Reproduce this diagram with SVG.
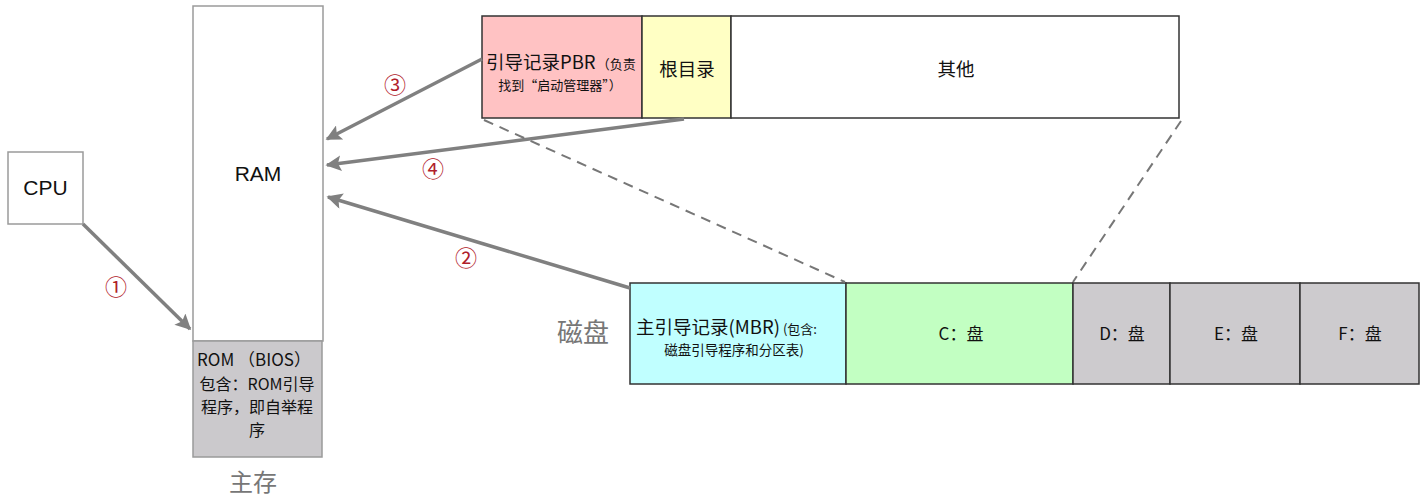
<svg xmlns="http://www.w3.org/2000/svg" width="1425" height="502" viewBox="0 0 1425 502">
<style>
text{font-family:"Noto Sans CJK SC","Liberation Sans",sans-serif;fill:#111}
.lat{font-family:"Liberation Sans","Noto Sans CJK SC",sans-serif}
.box{stroke:#9a9a9a;stroke-width:1.5}
.bar{stroke:#333;stroke-width:1.5}
.arr{stroke:#808080;stroke-width:3.5;fill:none;marker-end:url(#ah)}
.dash{stroke:#777;stroke-width:2;stroke-dasharray:10,7;fill:none}
.num{fill:#b0202a;font-size:22px;font-family:"Noto Sans CJK SC","DejaVu Sans",sans-serif}
.grey{fill:#777}
</style>
<defs>
<marker id="ah" viewBox="0 0 10 10" refX="9" refY="5" markerWidth="5" markerHeight="4.5" orient="auto" markerUnits="strokeWidth">
<path d="M0,0 L10,5 L0,10 L2,5 Z" fill="#808080"/>
</marker>
</defs>
<rect width="1425" height="502" fill="#fff"/>
<g id="cpu">
<rect class="box" x="8" y="152" width="75" height="72" fill="#fff"/>
<text class="lat" x="45.5" y="195" font-size="21" text-anchor="middle">CPU</text>
</g>
<g id="mainmem">
<rect class="box" x="193" y="6" width="130" height="335" fill="#fff"/>
<text class="lat" x="258" y="181" font-size="21" text-anchor="middle">RAM</text>
<rect class="box" x="193" y="341" width="129" height="116" fill="#cbc9cc"/>
<text x="254" y="366" font-size="17" text-anchor="middle">ROM （BIOS）</text>
<text x="257" y="390" font-size="16" text-anchor="middle">包含：ROM引导</text>
<text x="257" y="413" font-size="16" text-anchor="middle">程序，即自举程</text>
<text x="257" y="436" font-size="16" text-anchor="middle">序</text>
<text class="grey" x="253" y="491" font-size="24" text-anchor="middle">主存</text>
</g>
<g id="partition">
<rect class="bar" x="482" y="16" width="160" height="102" fill="#ffc2c3"/>
<rect class="bar" x="642" y="16" width="89" height="102" fill="#ffffc4"/>
<rect class="bar" x="731" y="16" width="448" height="102" fill="#fff"/>
<text x="486" y="69" font-size="18.5">引导记录PBR<tspan font-size="13" dx="1">（负责</tspan></text>
<text x="560" y="90" font-size="13" text-anchor="middle">找到“启动管理器”）</text>
<text x="687" y="76" font-size="18.5" text-anchor="middle">根目录</text>
<text x="956" y="76" font-size="18.5" text-anchor="middle">其他</text>
</g>
<g id="disk">
<rect class="bar" x="630" y="283" width="216" height="101" fill="#c0ffff"/>
<rect class="bar" x="846" y="283" width="227" height="101" fill="#c2ffc2"/>
<rect class="bar" x="1073" y="283" width="97" height="101" fill="#cdcbce"/>
<rect class="bar" x="1170" y="283" width="130" height="101" fill="#cdcbce"/>
<rect class="bar" x="1300" y="283" width="119" height="101" fill="#cdcbce"/>
<text x="636" y="334" font-size="18.5">主引导记录(MBR)<tspan font-size="13" dx="3">(包含:</tspan></text>
<text x="734" y="355" font-size="13.5" text-anchor="middle">磁盘引导程序和分区表)</text>
<text x="961" y="340" font-size="17" text-anchor="middle">C：盘</text>
<text x="1122" y="340" font-size="17" text-anchor="middle">D：盘</text>
<text x="1236" y="340" font-size="17" text-anchor="middle">E：盘</text>
<text x="1360" y="340" font-size="17" text-anchor="middle">F：盘</text>
<text class="grey" x="583" y="342" font-size="26" text-anchor="middle">磁盘</text>
</g>
<g id="connectors">
<line class="arr" x1="83" y1="224" x2="190" y2="329"/>
<line class="arr" x1="482" y1="59" x2="327" y2="139"/>
<line class="arr" x1="684" y1="119" x2="327" y2="165"/>
<line class="arr" x1="630" y1="288" x2="328" y2="197"/>
<line class="dash" x1="484" y1="120" x2="845" y2="282"/>
<line class="dash" x1="1181" y1="121" x2="1073" y2="282"/>
<text class="num" x="116" y="295" text-anchor="middle">①</text>
<text class="num" x="466" y="266" text-anchor="middle">②</text>
<text class="num" x="395" y="93" text-anchor="middle">③</text>
<text class="num" x="433" y="177" text-anchor="middle">④</text>
</g>
</svg>
